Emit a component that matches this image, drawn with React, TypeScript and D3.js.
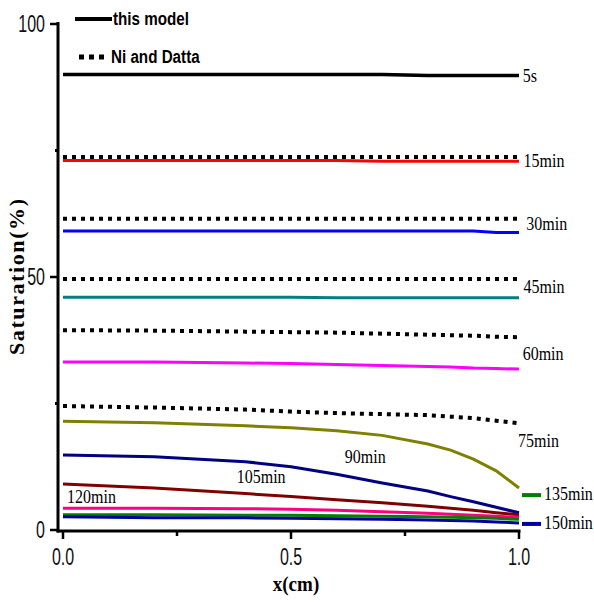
import React from 'react';
import * as d3 from 'd3';

// Common x grid (cm)
const xGrid = [0, 0.2, 0.4, 0.5, 0.6, 0.7, 0.8, 0.85, 0.9, 0.95, 1.0];

// "this model" saturation (%)
const model5s = [90, 90, 90, 90, 90, 90, 89.8, 89.8, 89.8, 89.8, 89.8];
const model15 = [73, 73, 73, 73, 73, 72.9, 72.9, 72.9, 72.9, 72.9, 72.9];
const model30 = [59.1, 59.1, 59.1, 59.1, 59.1, 59.1, 59.1, 59.1, 59.1, 58.8, 58.8];
const model45 = [46.0, 46.0, 46.0, 46.0, 45.9, 45.9, 45.9, 45.9, 45.9, 45.9, 45.9];
const model60 = [33.2, 33.2, 33.0, 32.9, 32.7, 32.5, 32.3, 32.2, 32.0, 31.9, 31.8];
const model75 = [21.5, 21.2, 20.6, 20.2, 19.6, 18.7, 17.0, 15.8, 14.0, 11.7, 8.3];
const model90 = [14.8, 14.5, 13.5, 12.5, 11.0, 9.3, 7.7, 6.6, 5.6, 4.5, 3.4];
const model105 = [9.1, 8.3, 7.2, 6.6, 6.0, 5.4, 4.7, 4.3, 3.9, 3.4, 3.0];
const model120 = [4.3, 4.3, 4.2, 4.1, 3.9, 3.6, 3.3, 3.1, 2.9, 2.7, 2.5];
const model135 = [3.0, 3.0, 2.9, 2.9, 2.8, 2.7, 2.6, 2.5, 2.4, 2.3, 2.1];
const model150 = [2.6, 2.4, 2.4, 2.3, 2.2, 2.1, 2.0, 1.9, 1.8, 1.6, 1.4];

// "Ni and Datta" saturation (%)
const ni15 = [73.7, 73.7, 73.7, 73.7, 73.7, 73.7, 73.7, 73.7, 73.7, 73.7, 73.7];
const ni30 = [61.5, 61.5, 61.5, 61.5, 61.5, 61.5, 61.5, 61.5, 61.5, 61.5, 61.5];
const ni45 = [49.6, 49.6, 49.6, 49.6, 49.6, 49.6, 49.6, 49.6, 49.6, 49.6, 49.6];
const ni60 = [39.5, 39.4, 39.2, 39.1, 39.0, 38.8, 38.6, 38.5, 38.4, 38.2, 38.1];
const ni75 = [24.5, 24.2, 23.8, 23.4, 23.1, 22.9, 22.7, 22.4, 22.1, 21.6, 21.1];

const modelNames = ['5s', '15min', '30min', '45min', '60min', '75min', '90min', '105min', '120min', '135min', '150min'];
const modelValues = [model5s, model15, model30, model45, model60, model75, model90, model105, model120, model135, model150];
const modelColors = ['#000000', '#ff0000', '#0000ff', '#008080', '#ff00ff', '#808000', '#000080', '#800000', '#ff0080', '#008000', '#0000a0'];
const niValues = [ni15, ni30, ni45, ni60, ni75];

// Curve labels: [x, y] in data units
const rightLabels = ['5s', '15min', '30min', '45min', '60min', '75min'];
const rightLabelY = [89.6, 72.8, 60.3, 47.8, 34.5, 17.4];
const rightLabelX = [1.008, 1.01, 1.016, 1.01, 1.008, 0.998];
const innerLabels = ['90min', '105min', '120min'];
const innerLabelX = [0.618, 0.381, 0.009];
const innerLabelY = [14.3, 10.3, 6.4];
const keyLabels = ['135min', '150min'];
const keyLabelY = [6.9, 1.2];
const keyColors = ['#008000', '#0000a0'];

const xTicks = [0, 0.25, 0.5, 0.75, 1.0];
const xTickLabels = [0, 0.5, 1.0];
const yTicks = [0, 25, 50, 75, 100];
const yTickLabels = [0, 50, 100];

export default function App() {
  const W = 594, H = 602;
  const x = d3.scaleLinear().domain([0, 1]).range([63, 519]);
  const y = d3.scaleLinear().domain([0, 100]).range([530, 24]);
  const line = d3.line<number>().x((_, i) => x(xGrid[i])).y((d) => y(d));
  const serif = '"Liberation Serif", "Times New Roman", serif';
  const sans = '"Liberation Sans", Arial, sans-serif';
  const axisX = 58;
  const axisY = 531;

  return (
    <svg width={W} height={H} style={{ position: 'absolute', left: 0, top: 0, background: '#fff' }}>
      <rect x={0} y={0} width={W} height={H} fill="#fff" />
      {/* dotted Ni and Datta */}
      {niValues.map((v, i) => (
        <path key={'n' + i} d={line(v) || ''} fill="none" stroke="#000" strokeWidth={4} strokeDasharray="4 5" />
      ))}
      {/* model lines */}
      {modelValues.map((v, i) => (
        <path key={'m' + i} d={line(v) || ''} fill="none" stroke={modelColors[i]} strokeWidth={i === 0 ? 3.5 : 3} />
      ))}

      {/* axes */}
      <line x1={axisX} x2={axisX} y1={y(100) - 2} y2={axisY + 1.5} stroke="#000" strokeWidth={3} />
      <line x1={axisX - 1.5} x2={x(1) + 1.5} y1={axisY} y2={axisY} stroke="#000" strokeWidth={3} />
      {yTicks.map((t) => (
        <line key={'yt' + t} x1={t % 50 === 0 ? axisX - 8 : axisX - 3} x2={axisX} y1={y(t)} y2={y(t)} stroke="#000" strokeWidth={t % 50 === 0 ? 2.5 : 3} />
      ))}
      {xTicks.map((t) => (
        <line key={'xt' + t} x1={x(t)} x2={x(t)} y1={axisY} y2={(t * 4) % 2 === 0 ? axisY + 8 : axisY + 5} stroke="#000" strokeWidth={2.5} />
      ))}
      {yTickLabels.map((t) => (
        <text key={'yl' + t} transform={`translate(45, ${y(t) + 8}) scale(0.8, 1.15)`} textAnchor="end" fontFamily={sans} fontSize={20} fill="#111">
          {t}
        </text>
      ))}
      {xTickLabels.map((t) => (
        <text key={'xl' + t} transform={`translate(${x(t)}, 565) scale(0.8, 1.15)`} textAnchor="middle" fontFamily={sans} fontSize={20} fill="#111">
          {t.toFixed(1)}
        </text>
      ))}

      {/* axis titles */}
      <text transform="translate(296, 591) scale(1, 1.15)" textAnchor="middle" fontFamily={serif} fontWeight="bold" fontSize={19}>x(cm)</text>
      <text transform={`translate(24, ${y(50)}) rotate(-90)`} textAnchor="middle" fontFamily={serif} fontWeight="bold" fontSize={22}
        textLength={156} lengthAdjust="spacing">Saturation(%)</text>

      {/* curve labels */}
      {rightLabels.map((s, i) => (
        <text key={'rl' + s} transform={`translate(${x(rightLabelX[i])}, ${y(rightLabelY[i]) + 5}) scale(1, 1.12)`} fontFamily={serif} fontSize={16} fill="#000">{s}</text>
      ))}
      {innerLabels.map((s, i) => (
        <text key={'il' + s} transform={`translate(${x(innerLabelX[i])}, ${y(innerLabelY[i]) + 5}) scale(1, 1.12)`} fontFamily={serif} fontSize={16} fill="#000">{s}</text>
      ))}
      {keyLabels.map((s, i) => (
        <g key={'kl' + s}>
          <line x1={522} x2={541} y1={y(keyLabelY[i])} y2={y(keyLabelY[i])} stroke={keyColors[i]} strokeWidth={4} />
          <text transform={`translate(544, ${y(keyLabelY[i]) + 5}) scale(1, 1.12)`} fontFamily={serif} fontSize={16} fill="#000">{s}</text>
        </g>
      ))}

      {/* legend */}
      <line x1={75} x2={112} y1={19} y2={19} stroke="#000" strokeWidth={4} />
      <text transform="translate(113, 25) scale(0.95, 1.1)" fontFamily={sans} fontWeight="bold" fontSize={16}>this model</text>
      <line x1={79} x2={108} y1={57} y2={57} stroke="#000" strokeWidth={5} strokeDasharray="5 5" />
      <text transform="translate(111, 63) scale(0.95, 1.1)" fontFamily={sans} fontWeight="bold" fontSize={16}>Ni and Datta</text>
    </svg>
  );
}
